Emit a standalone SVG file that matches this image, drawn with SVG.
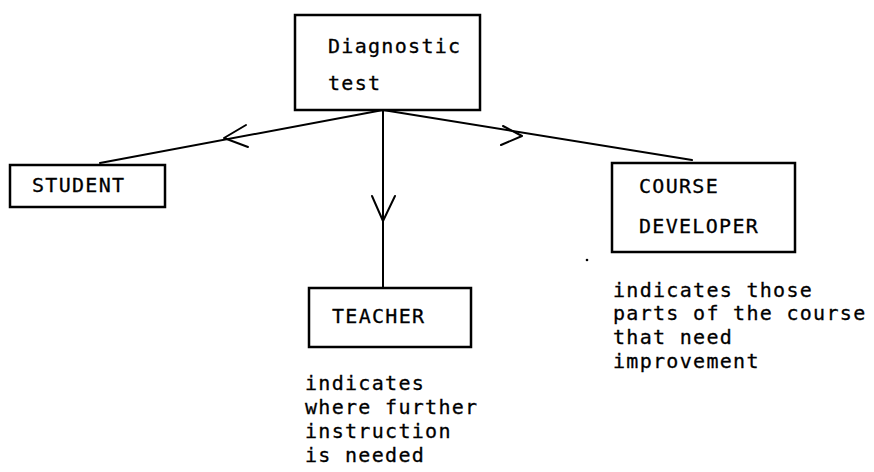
<svg xmlns="http://www.w3.org/2000/svg" width="874" height="472" viewBox="0 0 874 472">
<style>
.box{fill:#fff;stroke:#000;stroke-width:2.5}
.t{font-family:"DejaVu Sans Mono","Liberation Mono",monospace;font-size:20px;letter-spacing:1.3px;fill:#000;stroke:#000;stroke-width:0.3}
.c{fill:none;stroke:#000;stroke-width:2;stroke-linecap:round;stroke-linejoin:round}
</style>
<rect width="874" height="472" fill="#fff"/>
<g id="connectors">
<path class="c" d="M383,110 L100,163"/>
<path class="c" d="M246,125 L224,138 L248,147"/>
<path class="c" d="M383,110 L692,160"/>
<path class="c" d="M503,126 L522,136 L501,145"/>
<path class="c" d="M383,110 L383,288"/>
<path class="c" d="M372,196 L383,221 L395,196"/>
</g>
<g id="diagnostic">
<rect class="box" x="295" y="15" width="185" height="95"/>
<text class="t" x="328" y="53">Diagnostic</text>
<text class="t" x="328" y="90">test</text>
</g>
<g id="student">
<rect class="box" x="10" y="165" width="155" height="42"/>
<text class="t" x="32" y="192">STUDENT</text>
</g>
<g id="teacher">
<rect class="box" x="309" y="288" width="162" height="59"/>
<text class="t" x="332" y="323">TEACHER</text>
<text class="t" x="305" y="390">indicates</text>
<text class="t" x="305" y="414">where further</text>
<text class="t" x="305" y="438">instruction</text>
<text class="t" x="305" y="462">is needed</text>
</g>
<g id="course-developer">
<rect class="box" x="612" y="163" width="183" height="89"/>
<text class="t" x="639" y="193">COURSE</text>
<text class="t" x="639" y="233">DEVELOPER</text>
<text class="t" x="613" y="297">indicates those</text>
<text class="t" x="613" y="320">parts of the course</text>
<text class="t" x="613" y="344">that need</text>
<text class="t" x="613" y="368">improvement</text>
</g>
<circle cx="587" cy="260" r="1.3" fill="#000"/>
</svg>
